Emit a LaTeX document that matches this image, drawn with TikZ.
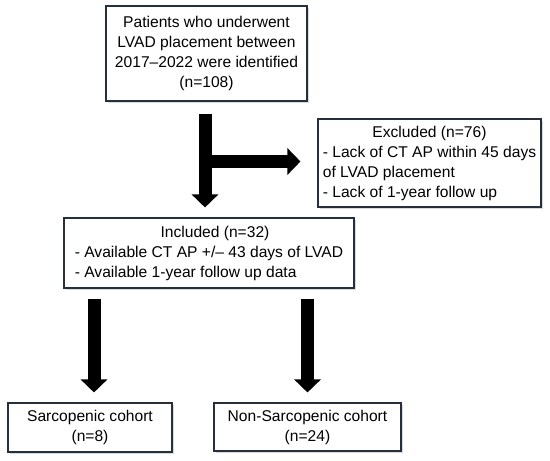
\documentclass[tikz,border=0pt]{standalone}
\usepackage{fontspec}
\setmainfont{Liberation Sans}
\usetikzlibrary{arrows.meta,shadows,calc}
\definecolor{boxline}{HTML}{26303C}
\begin{document}
\begin{tikzpicture}[x=1pt,y=-1pt,
  box/.style={draw=boxline, line width=1.1pt, fill=white,
    drop shadow={shadow xshift=1.5pt,shadow yshift=-1.5pt,opacity=0.3,fill=gray},
    inner sep=0pt, font=\fontsize{15.6}{20}\selectfont, align=center},
  bigarrow/.style={line width=13pt, -{Triangle[width=26pt,length=13pt]}}]
\useasboundingbox (0,0) rectangle (550,461);

\node[box, minimum width=201pt, minimum height=95pt] (top) at (206.5,53.5)
  {Patients who underwent\\LVAD placement between\\2017–2022 were identified\\(n=108)};

\node[box, minimum width=223pt, minimum height=88pt] (exc) at (429.5,163)
  {\begin{tabular}{@{}l@{}}\multicolumn{1}{@{}c@{}}{Excluded (n=76)}\\
   - Lack of CT AP within 45 days\\ of LVAD placement\\ - Lack of 1-year follow up\end{tabular}};

\node[box, minimum width=290pt, minimum height=70pt] (inc) at (209,253)
  {\begin{tabular}{@{}l@{}}\multicolumn{1}{@{}c@{}}{\hspace*{12pt}Included (n=32)}\\
   - Available CT AP +/– 43 days of LVAD\\ - Available 1-year follow up data\end{tabular}};

\node[box, minimum width=164pt, minimum height=49pt] (sar) at (90,427.5)
  {Sarcopenic cohort\\(n=8)};
\node[box, minimum width=187pt, minimum height=48pt] (non) at (307.5,427)
  {Non-Sarcopenic cohort\\(n=24)};

\coordinate (vx) at (205,0);
\coordinate (hy) at (0,161.5);
\draw[bigarrow] ($(vx |- top.south)+(0,12)$) -- ($(vx |- inc.north)+(0,-10)$);
\draw[bigarrow] ($(vx |- hy)+(6,0)$) -- ($(exc.west |- hy)+(-17,0)$);
\draw[bigarrow] ($(sar.north |- inc.south)+(4,10)$) -- ($(sar.north)+(4,-10)$);
\draw[bigarrow] ($(non.north |- inc.south)+(0,10)$) -- ($(non.north)+(0,-10)$);
\end{tikzpicture}
\end{document}
